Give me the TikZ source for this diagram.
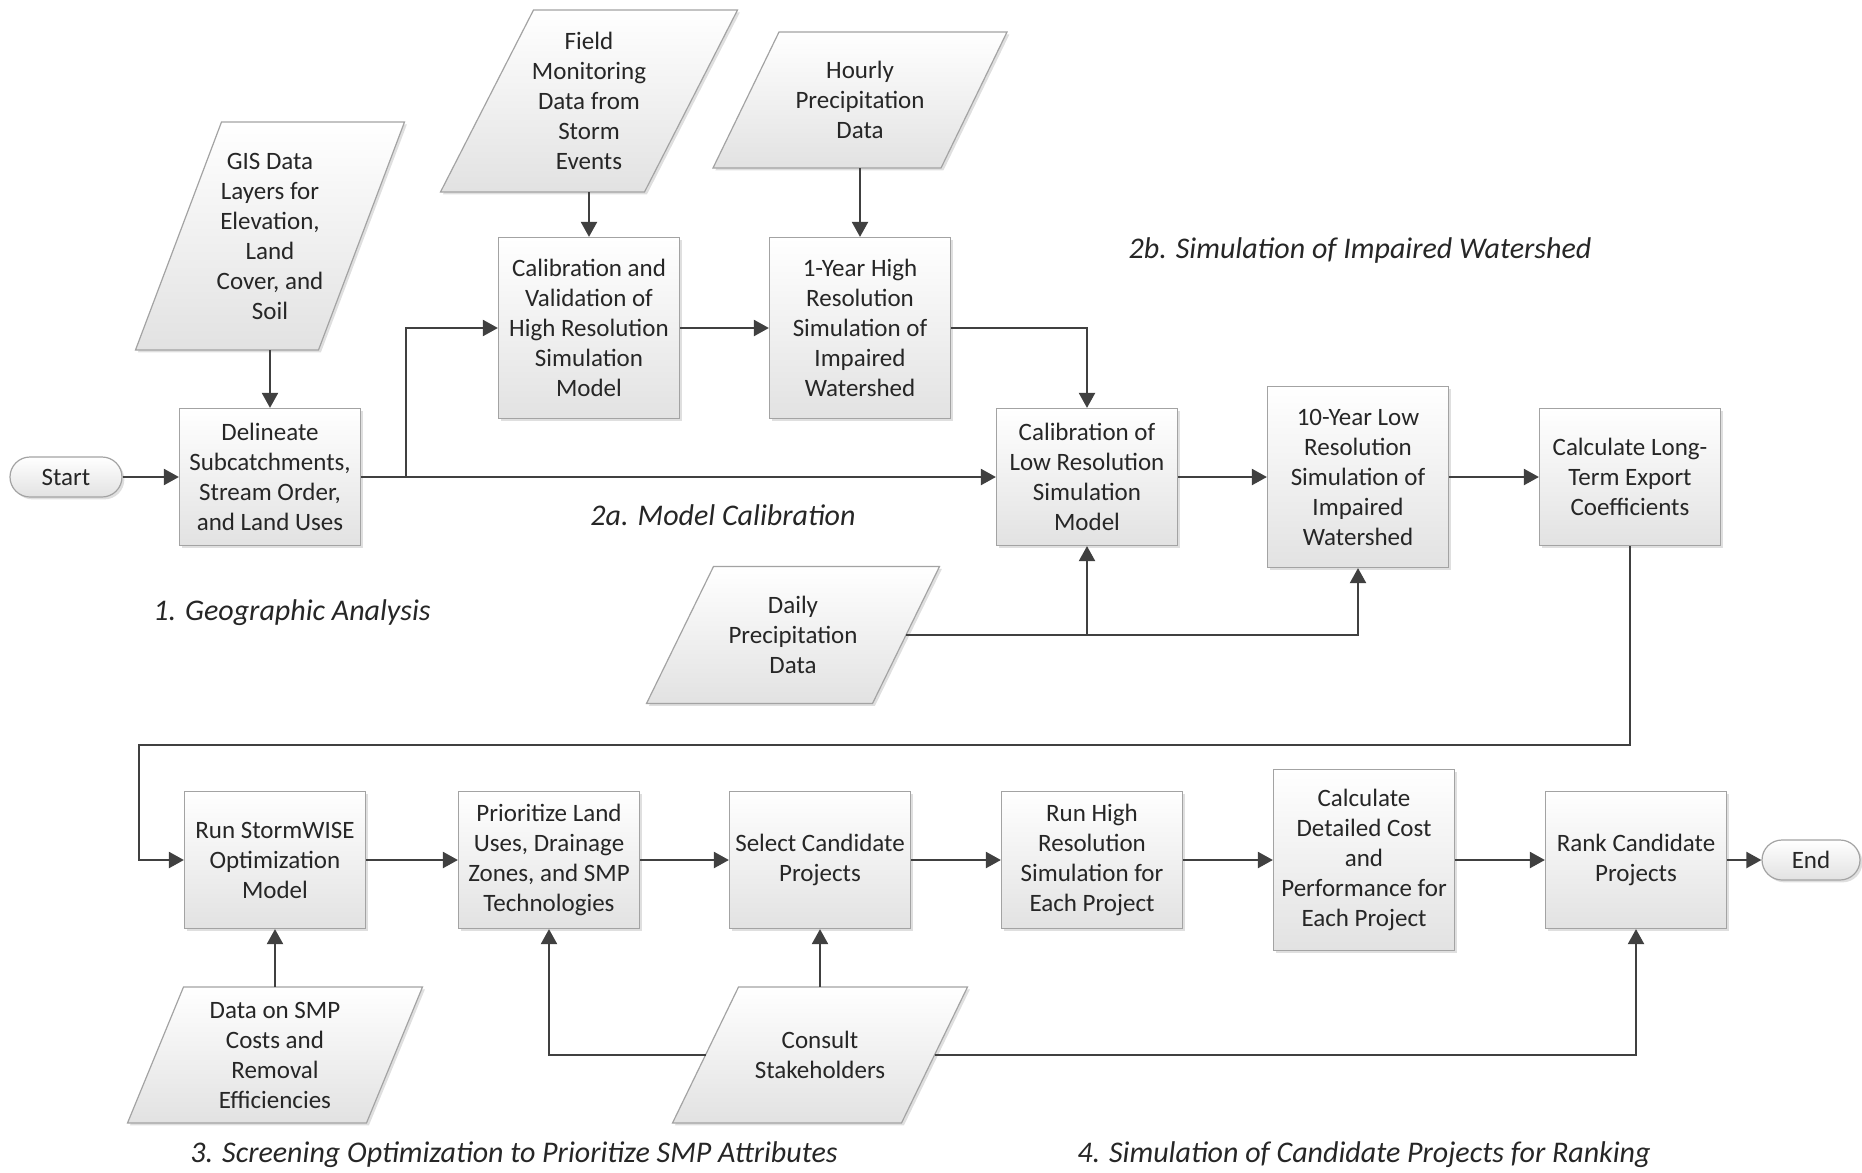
\documentclass[tikz,border=0pt]{standalone}
\usepackage{fontspec}
\setmainfont{Carlito}
\usepackage{xcolor}
\usetikzlibrary{arrows.meta, positioning, calc, shadows, backgrounds}
\definecolor{boxline}{HTML}{A3A3A3}
\definecolor{boxfill}{HTML}{E2E2E2}
\definecolor{arrline}{HTML}{404040}
\definecolor{boxtext}{HTML}{262626}

% parallelogram behind a data node: #1 node name, #2 slant
\newcommand{\datapara}[2]{%
  \path[paraface] ([xshift={-#2/2}]#1.south west) -- ([xshift={-#2/2}]#1.south east)
    -- ([xshift={#2/2}]#1.north east) -- ([xshift={#2/2}]#1.north west) -- cycle;}

\begin{document}
\begin{tikzpicture}[
  x=0.5pt, y=-0.5pt,
  font=\fontsize{12.5}{15}\selectfont,
  >={Triangle[length=7.5pt,width=8pt]},
  face/.style={
    draw=boxline, line width=0.6pt,
    top color=white, bottom color=boxfill,
    drop shadow={shadow xshift=1.2pt, shadow yshift=-1.2pt, opacity=0.25}
  },
  proc/.style={face, align=center, inner sep=2pt, text=boxtext},
  box/.style={proc, rectangle, minimum width=90.5pt, minimum height=68.5pt},
  tall/.style={box, minimum height=90.5pt},
  datain/.style={rectangle, align=center, inner sep=2pt, outer sep=0pt, text=boxtext},
  paraface/.style={face},
  term/.style={proc, rectangle, rounded corners=10pt, minimum height=20pt},
  arr/.style={->, draw=arrline, line width=1.1pt},
  lab/.style={font=\fontsize{15}{18}\selectfont\itshape, text=boxtext}
]
  \useasboundingbox (0,0) rectangle (1862,1172);

  % 1. geographic analysis
  \node[term, minimum width=56pt] (start) at (66,477) {Start};
  \node[box] (delin) at (270,477) {Delineate\\Subcatchments,\\Stream Order,\\and Land Uses};
  \node[datain, minimum width=91.5pt, minimum height=114pt] (gis) at (270,236)
    {GIS Data\\Layers for\\Elevation,\\Land\\Cover, and\\Soil};

  % 2a. model calibration
  \node[datain, minimum width=102pt, minimum height=91pt] (field) at (589,101)
    {Field\\Monitoring\\Data from\\Storm\\Events};
  \node[tall] (calval) at (589,328) {Calibration and\\Validation of\\High Resolution\\Simulation\\Model};
  \node[datain, minimum width=114pt, minimum height=68pt] (hourly) at (860,100)
    {Hourly\\Precipitation\\Data};
  \node[tall] (oneyr) at (860,328) {1-Year High\\Resolution\\Simulation of\\Impaired\\Watershed};
  \node[box] (callow) at (1087,477) {Calibration of\\Low Resolution\\Simulation\\Model};
  \node[datain, minimum width=113pt, minimum height=68.5pt] (daily) at (793,635)
    {Daily\\Precipitation\\Data};

  % 2b. impaired watershed
  \node[tall] (tenyr) at (1358,477) {10-Year Low\\Resolution\\Simulation of\\Impaired\\Watershed};
  \node[box] (longterm) at (1630,477) {Calculate Long-\\Term Export\\Coefficients};

  % 3. and 4.
  \node[box] (runsw) at (275,860) {Run StormWISE\\Optimization\\Model};
  \node[box] (prior) at (549,860) {Prioritize Land\\Uses, Drainage\\Zones, and SMP\\Technologies};
  \node[box] (select) at (820,860) {Select Candidate\\Projects};
  \node[box] (runhigh) at (1092,860) {Run High\\Resolution\\Simulation for\\Each Project};
  \node[tall] (caldet) at (1364,860) {Calculate\\Detailed Cost\\and\\Performance for\\Each Project};
  \node[box] (rank) at (1636,860) {Rank Candidate\\Projects};
  \node[term, minimum width=49pt] (finish) at (1811,860) {End};
  \node[datain, minimum width=119.5pt, minimum height=68pt] (smpdata) at (275,1055)
    {Data on SMP\\Costs and\\Removal\\Efficiencies};
  \node[datain, minimum width=114.5pt, minimum height=68pt] (consult) at (820,1055)
    {Consult\\Stakeholders};

  \begin{scope}[on background layer]
    \datapara{gis}{43pt}
    \datapara{field}{46.5pt}
    \datapara{hourly}{33pt}
    \datapara{daily}{33.5pt}
    \datapara{smpdata}{28pt}
    \datapara{consult}{33pt}
  \end{scope}

  % phase labels
  \node[lab] (l1) at (292,613) {1. Geographic Analysis};
  \node[lab] (l2a) at (723,515) {2a. Model Calibration};
  \node[lab] (l2b) at (1360,250) {2b. Simulation of Impaired Watershed};
  \node[lab] (l3) at (514,1155) {3. Screening Optimization to Prioritize SMP Attributes};
  \node[lab] (l4) at (1364,1155) {4. Simulation of Candidate Projects for Ranking};

  \coordinate (split) at (406,477);
  \coordinate (loopl) at (139,745);

  \draw[arr] (start) -- (delin);
  \draw[arr] (gis) -- (delin);
  \draw[arr] (delin) -- (callow);
  \draw[arr] (split) |- (calval.west);
  \draw[arr] (field) -- (calval);
  \draw[arr] (calval) -- (oneyr);
  \draw[arr] (hourly) -- (oneyr);
  \draw[arr] (oneyr.east) -| (callow.north);
  \draw[arr] (callow) -- (tenyr);
  \draw[arr] (tenyr) -- (longterm);
  \draw[arr] (daily.east) -| (callow.south);
  \draw[arr] (daily.east) -| (tenyr.south);
  \draw[arr] (longterm.south) |- (loopl) |- (runsw.west);

  \draw[arr] (runsw) -- (prior);
  \draw[arr] (prior) -- (select);
  \draw[arr] (select) -- (runhigh);
  \draw[arr] (runhigh) -- (caldet);
  \draw[arr] (caldet) -- (rank);
  \draw[arr] (rank) -- (finish);
  \draw[arr] (smpdata) -- (runsw);
  \draw[arr] (consult) -- (select);
  \draw[arr] (consult.west) -| (prior.south);
  \draw[arr] (consult.east) -| (rank.south);
\end{tikzpicture}
\end{document}
